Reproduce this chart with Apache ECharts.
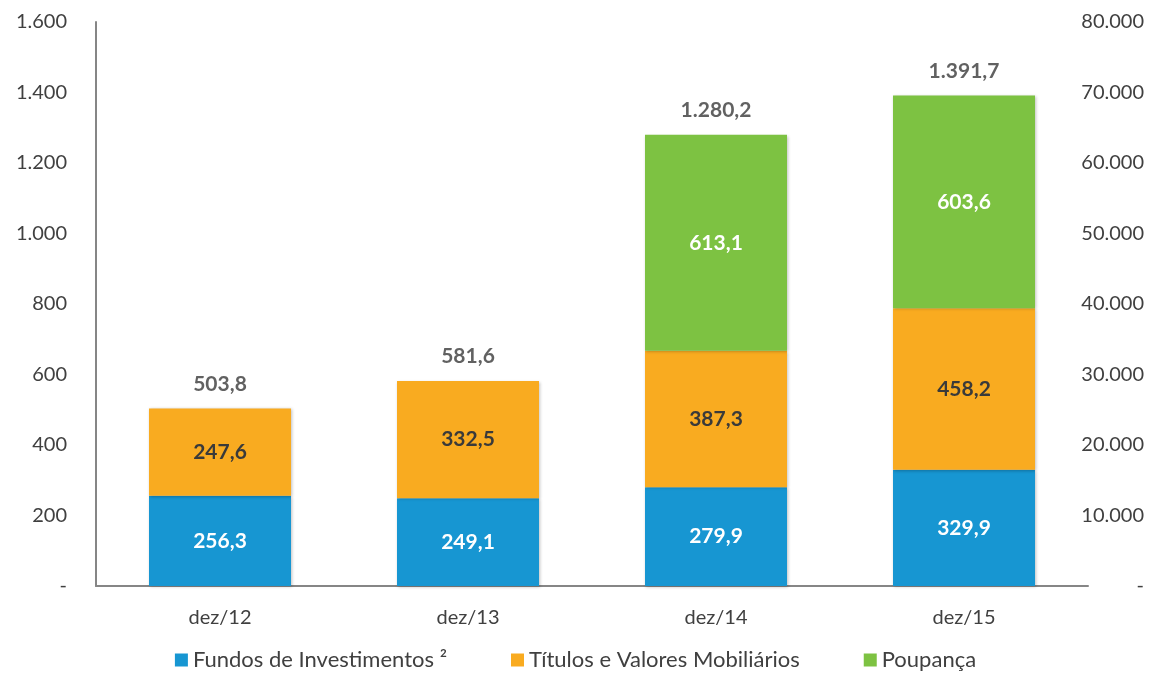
<!DOCTYPE html>
<html><head><meta charset="utf-8">
<script src="https://cdn.jsdelivr.net/npm/echarts@6/dist/echarts.min.js"></script>
<style>html,body{margin:0;padding:0;background:#fff}#c{width:1151px;height:673px}</style>
</head><body><div id="c"></div>
<script>
const categories = ['dez/12', 'dez/13', 'dez/14', 'dez/15'];
const fundos = [256.3, 249.1, 279.9, 329.9];
const titulos = [247.6, 332.5, 387.3, 458.2];
const poupanca = [null, null, 613.1, 603.6];
const totals = [503.8, 581.6, 1280.2, 1391.7];
const seriesNames = ['Fundos de Investimentos ²', 'Títulos e Valores Mobiliários', 'Poupança'];

const FONT = 'Lato, "Open Sans", sans-serif';
function fmtThousands(v) {
  if (v === 0) return '-';
  return String(v).replace(/\B(?=(\d{3})+(?!\d))/g, '.');
}
function fmtDec(v) {
  const parts = v.toFixed(1).split('.');
  return parts[0].replace(/\B(?=(\d{3})+(?!\d))/g, '.') + ',' + parts[1];
}
const chart = echarts.init(document.getElementById('c'), null, {renderer: 'canvas'});
const shadow = {shadowColor: 'rgba(0,0,0,0.25)', shadowBlur: 3, shadowOffsetX: 1, shadowOffsetY: 1};
const valLabel = (color) => ({show: true, position: 'inside', color: color, fontWeight: 'bold', fontSize: 21, fontFamily: FONT, formatter: p => fmtDec(p.value)});
chart.setOption({
  animation: false,
  textStyle: {fontFamily: FONT},
  grid: {left: 96, right: 63, top: 22, bottom: 87},
  legend: {
    top: 649, left: 'center', padding: [0, 5, 0, 5], itemWidth: 13, itemHeight: 13, itemGap: 64,
    icon: 'rect',
    textStyle: {fontSize: 22, color: '#404040', fontFamily: FONT},
    data: seriesNames
  },
  xAxis: {
    type: 'category', data: categories,
    axisLine: {lineStyle: {color: '#868686', width: 2}},
    axisTick: {show: false},
    axisLabel: {fontSize: 20, color: '#404040', margin: 22, fontFamily: FONT}
  },
  yAxis: [{
    type: 'value', min: 0, max: 1600, interval: 200,
    axisLine: {show: true, lineStyle: {color: '#868686', width: 2}},
    axisTick: {show: false}, splitLine: {show: false},
    axisLabel: {fontSize: 20, color: '#404040', margin: 29, formatter: fmtThousands, fontFamily: FONT}
  }, {
    type: 'value', min: 0, max: 80000, interval: 10000, position: 'right',
    axisLine: {show: false}, axisTick: {show: false}, splitLine: {show: false},
    axisLabel: {fontSize: 20, color: '#404040', margin: 56, align: 'right',
      formatter: fmtThousands, fontFamily: FONT}
  }],
  series: [
    {name: seriesNames[0], type: 'bar', stack: 's', data: fundos, barWidth: 142,
      itemStyle: Object.assign({color: '#1796D2'}, shadow), label: valLabel('#ffffff')},
    {name: seriesNames[1], type: 'bar', stack: 's', data: titulos,
      itemStyle: Object.assign({color: '#F9AB20'}, shadow), label: valLabel('#3a3a3a')},
    {name: seriesNames[2], type: 'bar', stack: 's', data: poupanca,
      itemStyle: Object.assign({color: '#7DC242'}, shadow), label: valLabel('#ffffff')},
    {name: 'Total', type: 'scatter', data: totals, symbolSize: 0, silent: true,
      label: {show: true, position: 'top', distance: 14, color: '#3a3a3a', fontWeight: 'bold', fontSize: 21, fontFamily: FONT, formatter: p => fmtDec(p.value)}}
  ]
});
</script></body></html>
